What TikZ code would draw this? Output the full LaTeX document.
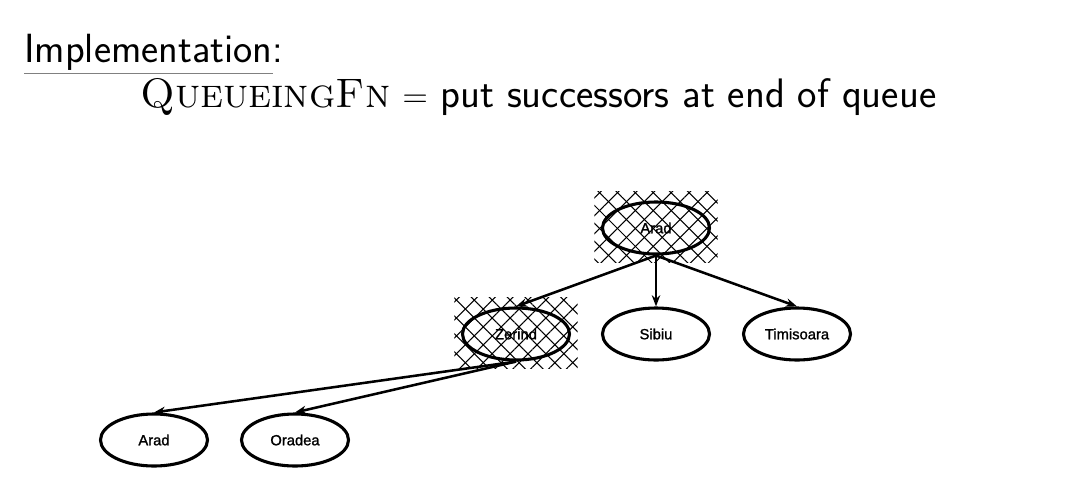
\documentclass[tikz,border=0pt]{standalone}
\usepackage{fontspec}
\newfontfamily\cityfont[FakeBold=1.2]{Liberation Sans}
\usetikzlibrary{shapes.geometric,arrows.meta,patterns.meta}

\begin{document}
\begin{tikzpicture}[x=0.025cm,y=-0.025cm,
    city/.style={ellipse,draw,line width=2.2pt,minimum width=2.675cm,minimum height=1.3cm,inner sep=0pt,font=\cityfont\fontsize{10.5}{12}\selectfont},
    hatchbox/.style={rectangle,minimum width=3.075cm,minimum height=1.75cm,inner sep=0pt,
      preaction={pattern={Lines[angle=45,distance=9pt,line width=0.75pt]}},
      pattern={Lines[angle=-45,distance=9pt,line width=0.75pt]}},
    succ/.style={line width=1.8pt,-{Stealth[length=8pt,width=6pt]}}]
      \useasboundingbox (0,0) rectangle (1072,488);
      % heading
      \node[anchor=base west,inner sep=0pt] (impl) at (24,62) {\fontsize{29}{35}\selectfont\sffamily Implementation};
      \node[anchor=base west,inner sep=0pt] (colon) at (impl.base east) {\fontsize{29}{35}\selectfont\sffamily :};
      \draw[gray,line width=0.7pt] ([yshift=-8.3pt]impl.base west)--([yshift=-8.3pt]impl.base east);
      \node[anchor=base west,inner sep=0pt] (qfn) at (140,107) {\fontsize{29.3}{35}\selectfont\textsc{QueueingFn} $=$ \sffamily put successors at end of queue};
      % expanded nodes
      \node[hatchbox] (aradmark) at (656,227) {};
      \node[hatchbox] (zerindmark) at (516,333) {};
      \node[city] (arad) at (656,228) {Arad};
      \node[city] (zerind) at (516,334) {Zerind};
      \node[city] (sibiu) at (656,334) {Sibiu};
      \node[city] (timisoara) at (797,334) {Timisoara};
      \node[city] (aradleaf) at (154,440) {Arad};
      \node[city] (oradea) at (295,440) {Oradea};
      \draw[succ] (arad.south)--(zerind.north);
      \draw[succ] (arad.south)--(sibiu.north);
      \draw[succ] (arad.south)--(timisoara.north);
      \draw[succ] (zerind.south)--(aradleaf.north);
      \draw[succ] (zerind.south)--(oradea.north);
\end{tikzpicture}
\end{document}
